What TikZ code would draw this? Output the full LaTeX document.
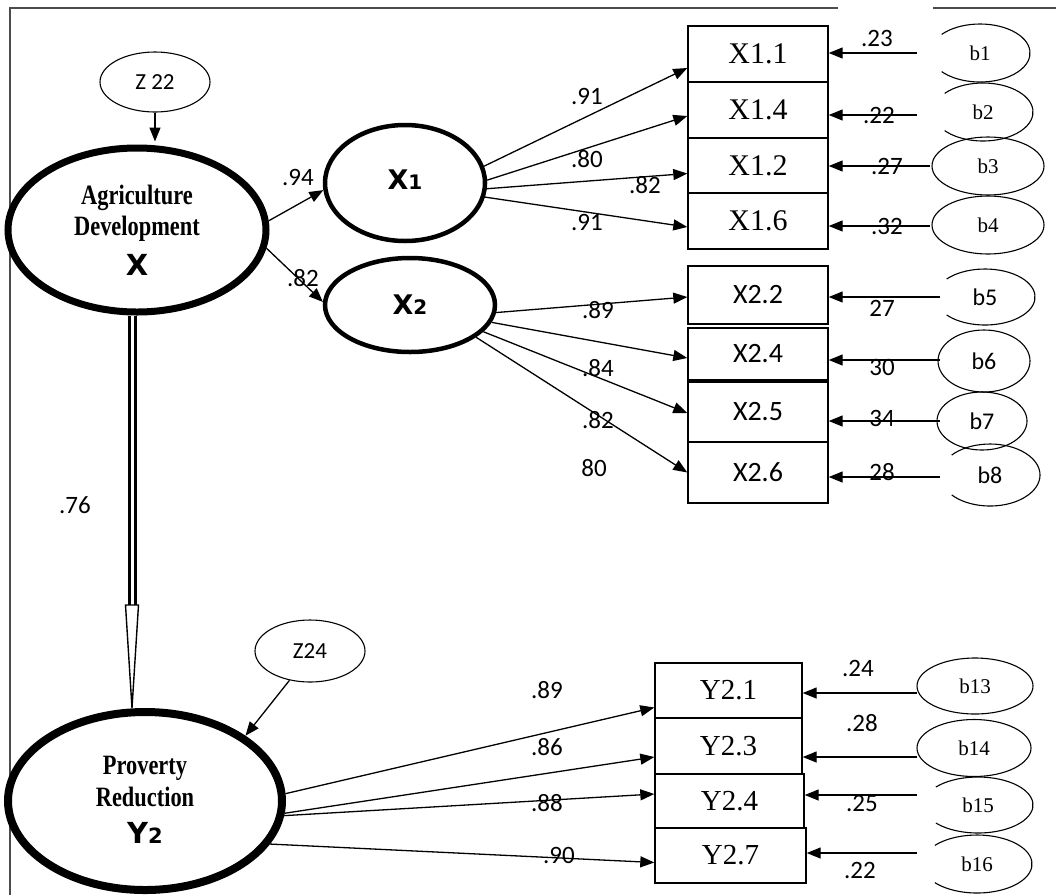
\documentclass[tikz,border=0pt]{standalone}
\usepackage{fontspec}
\setmainfont{Liberation Serif}
\newfontfamily\carl{Carlito}
\newfontfamily\dvs{DejaVu Sans}
\usetikzlibrary{arrows.meta,shapes.geometric,calc}
\newcommand{\fsz}[1]{\fontsize{#1}{#1}\selectfont}
\newcommand{\cutell}[3]{\draw[line width=1.1pt] ([shift={(140:#2pt and #3pt)}]#1.center) arc[start angle=140,end angle=-140,x radius=#2pt,y radius=#3pt];}
\begin{document}
\begin{tikzpicture}[x=1pt,y=-1pt,
  lat/.style={ellipse,draw,inner sep=0pt},
  obs/.style={rectangle,draw,line width=1.4pt,inner sep=0pt},
  serbox/.style={obs,font=\fsz{30}},
  sanbox/.style={obs,font=\carl\fsz{28}},
  ybox/.style={obs,font=\fsz{29}},
  errs/.style={ellipse,draw,line width=1.1pt,inner sep=0pt,font=\fsz{21}},
  errc/.style={ellipse,draw,line width=1.1pt,inner sep=0pt,font=\carl\fsz{24}},
  arr/.style={line width=1.3pt,-{Triangle[length=14pt,width=11pt]}},
  num/.style={font=\carl\fsz{25},inner sep=0pt},
  cond/.style={font=\bfseries\fsz{28},inner sep=0pt},
  bigl/.style={font=\dvs\bfseries\fsz{29},inner sep=0pt},
  frame/.style={draw=black!70,line width=2pt}
]
\useasboundingbox (0,0) rectangle (1056,895);
% frame
\draw[frame] (10,895) -- (10,8) -- (838,8);
\draw[frame] (933,8) -- (1056,8);

% latent variables
\node[lat,line width=1.1pt,minimum width=110pt,minimum height=60pt,font=\carl\fsz{23}] (Z22) at (155,82) {Z 22};
\node[lat,line width=7pt,minimum width=258pt,minimum height=164pt] (X) at (137,230) {};
\node[cond] (Xa) at (137,198) {\scalebox{0.8}[1]{Agriculture}};
\node[cond] (Xb) at (137,229) {\scalebox{0.8}[1]{Development}};
\node[bigl] (Xc) at (137,265) {X};
\node[lat,line width=4.5pt,minimum width=160pt,minimum height=116pt,font=\dvs\bfseries] (X1) at (405,183) {\raisebox{6pt}{\fsz{27}X\fsz{20}1}};
\node[lat,line width=4.5pt,minimum width=170pt,minimum height=94pt,font=\dvs\bfseries] (X2) at (410,305) {\fsz{27}X\fsz{20}2};
\node[lat,line width=8pt,minimum width=274pt,minimum height=178pt] (Y2) at (145,801) {};
\node[cond] (Ya) at (145,768) {\scalebox{0.8}[1]{Proverty}};
\node[cond] (Yb) at (145,797) {\scalebox{0.8}[1]{Reduction}};
\node[bigl,font=\dvs\bfseries] (Yc) at (145,833) {\fsz{29}Y\fsz{21}2};
\node[lat,line width=1.1pt,minimum width=110pt,minimum height=62pt,font=\carl\fsz{23}] (Z24) at (310,651) {Z24};

% indicators X1
\node[serbox,minimum width=140pt,minimum height=56pt] (X11) at (758,54) {X1.1};
\node[serbox,minimum width=140pt,minimum height=56pt] (X14) at (758,110) {X1.4};
\node[serbox,minimum width=140pt,minimum height=55pt] (X12) at (758,165.5) {X1.2};
\node[serbox,minimum width=140pt,minimum height=56pt] (X16) at (758,221) {X1.6};
% indicators X2
\node[sanbox,minimum width=140pt,minimum height=58pt] (X22) at (758,295) {X2.2};
\node[sanbox,minimum width=140pt,minimum height=52pt] (X24) at (758,354) {X2.4};
\node[sanbox,minimum width=140pt,minimum height=60pt] (X25) at (758,412) {X2.5};
\node[sanbox,minimum width=140pt,minimum height=61pt] (X26) at (758,472.5) {X2.6};
% indicators Y2
\node[ybox,minimum width=147pt,minimum height=55pt] (Y21) at (728.5,690.5) {Y2.1};
\node[ybox,minimum width=147pt,minimum height=56pt] (Y23) at (728.5,746) {Y2.3};
\node[ybox,minimum width=149pt,minimum height=54pt] (Y24) at (729.5,801) {Y2.4};
\node[ybox,minimum width=151pt,minimum height=55pt] (Y27) at (730.5,855.5) {Y2.7};

% error terms
\node[errs,draw=none,minimum width=100pt,minimum height=58pt] (b1) at (980,53) {b1};
\cutell{b1}{50}{29}
\node[errs,draw=none,minimum width=100pt,minimum height=58pt] (b2) at (983,112) {b2};
\cutell{b2}{50}{29}
\node[errs,minimum width=112pt,minimum height=58pt] (b3) at (988,166) {b3};
\node[errs,minimum width=112pt,minimum height=58pt] (b4) at (988,225) {b4};
\node[errc,draw=none,minimum width=100pt,minimum height=56pt] (b5) at (985,297) {\raisebox{-10pt}{b5}};
\cutell{b5}{50}{28}
\node[errc,minimum width=92pt,minimum height=62pt] (b6) at (984,361) {b6};
\node[errc,minimum width=90pt,minimum height=58pt] (b7) at (982,421) {b7};
\node[errc,draw=none,minimum width=100pt,minimum height=62pt] (b8) at (990,475) {\raisebox{-6pt}{b8}};
\cutell{b8}{50}{31}
\node[errs,minimum width=116pt,minimum height=56pt] (b13) at (975,686) {b13};
\node[errs,minimum width=114pt,minimum height=57pt] (b14) at (974,748) {b14};
\node[errs,draw=none,minimum width=110pt,minimum height=56pt] (b15) at (978,805) {b15};
\cutell{b15}{55}{28}
\node[errs,draw=none,minimum width=110pt,minimum height=58pt] (b16) at (977,864) {b16};
\cutell{b16}{55}{29}

% structural paths
\draw[arr,shorten >=3pt] (Z22.south) -- (X.north -| Z22.south);
\draw[arr] (X.4) -- (X1.185);
\draw[arr] (X.-8) -- (X2.178);
\coordinate (tb) at (132,605);
\draw[line width=3pt,double,double distance=3pt] ([xshift=-5pt]X.south) -- (tb);
\draw[line width=1.4pt,fill=white,line join=miter] ([xshift=-6.5pt]tb) -- ([xshift=-13pt]Y2.north) -- ([xshift=6.5pt]tb) -- cycle;
\draw[arr] (Z24.235) -- (Y2.33);

% loadings X1
\draw[arr] (X1.12) -- ([yshift=-14pt]X11.west);
\draw[arr] (X1.2) -- ([yshift=-6pt]X14.west);
\draw[arr] (X1.-4) -- ([yshift=-8pt]X12.west);
\draw[arr] (X1.-10) -- ([yshift=-6pt]X16.west);
% loadings X2
\draw[arr] (X2.-5) -- ([yshift=-2pt]X22.west);
\draw[arr] (X2.-12) -- ([yshift=-4pt]X24.west);
\draw[arr] (X2.-20) -- ([yshift=-1pt]X25.west);
\draw[arr] (X2.-26) -- (X26.west);
% loadings Y2
\draw[arr] (Y2.3) -- ([yshift=-17pt]Y21.west);
\draw[arr] (Y2.-5) -- ([yshift=-11pt]Y23.west);
\draw[arr] (Y2.-6) -- ([yshift=7pt]Y24.west);
\draw[arr] (Y2.-19) -- ([yshift=-7pt]Y27.west);

% error paths
\coordinate (e1) at (917,53);
\coordinate (e2) at (917,115);
\coordinate (e3) at (930,166);
\coordinate (e4) at (930,226);
\coordinate (e5) at (940,297);
\coordinate (e6) at (940,360);
\coordinate (e7) at (940,421);
\coordinate (e8) at (940,477);
\coordinate (e13) at (917,693);
\coordinate (e14) at (917,757);
\coordinate (e15) at (917,795);
\coordinate (e16) at (917,853);
\draw[arr] (e1) -- (X11.east |- e1);
\draw[arr] (e2) -- (X14.east |- e2);
\draw[arr] (e3) -- (X12.east |- e3);
\draw[arr] (e4) -- (X16.east |- e4);
\draw[arr] (e5) -- (X22.east |- e5);
\draw[arr] (e6) -- (X24.east |- e6);
\draw[arr] (e7) -- (X25.east |- e7);
\draw[arr] (e8) -- (X26.east |- e8);
\draw[arr] (e13) -- (Y21.east |- e13);
\draw[arr] (e14) -- (Y23.east |- e14);
\draw[arr] (e15) -- (Y24.east |- e15);
\draw[arr] (e16) -- (Y27.east |- e16);

% coefficient labels
\node[num] (l94) at (298,177) {.94};
\node[num] (l82a) at (303,278) {.82};
\node[num] (l76) at (75,505) {.76};
\node[num] (l91a) at (587,96) {.91};
\node[num] (l80a) at (587,159) {.80};
\node[num] (l82b) at (645,185) {.82};
\node[num] (l91b) at (587,222) {.91};
\node[num] (l23) at (877,38) {.23};
\node[num] (l22a) at (879,115) {.22};
\node[num] (l27a) at (887,166) {.27};
\node[num] (l32) at (887,226) {.32};
\node[num] (l89a) at (598,310) {.89};
\node[num] (l84) at (598,368) {.84};
\node[num] (l82c) at (598,420) {.82};
\node[num] (l80b) at (594,468) {80};
\node[num] (l27b) at (882,308) {27};
\node[num] (l30) at (882,367) {30};
\node[num] (l34) at (882,418) {34};
\node[num] (l28a) at (882,472) {28};
\node[num] (l89b) at (547,690) {.89};
\node[num] (l86) at (547,747) {.86};
\node[num] (l88) at (547,803) {.88};
\node[num] (l90) at (559,855) {.90};
\node[num] (l24) at (858,668) {.24};
\node[num] (l28b) at (862,723) {.28};
\node[num] (l25) at (862,803) {.25};
\node[num] (l22b) at (860,870) {.22};
\end{tikzpicture}
\end{document}
